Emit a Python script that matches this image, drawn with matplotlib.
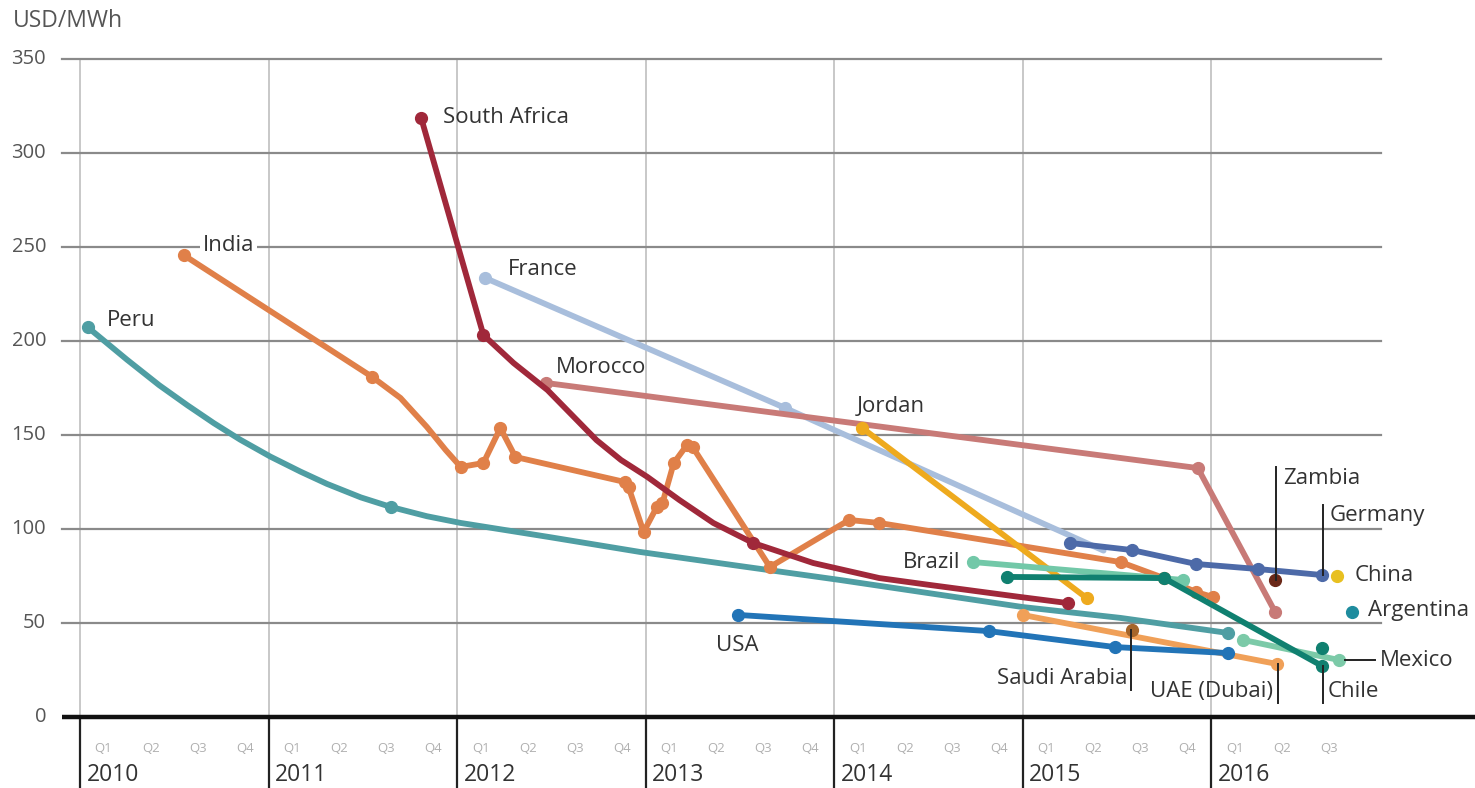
import matplotlib
matplotlib.use("Agg")
import matplotlib.pyplot as plt

plt.rcParams['font.family'] = ['Open Sans', 'DejaVu Sans']

# Solar PV auction prices, USD/MWh; time given as decimal year
peru_t = [2010.04, 2010.25, 2010.42, 2010.57, 2010.71, 2010.85,
          2011.01, 2011.17, 2011.31, 2011.49, 2011.65, 2011.84, 2012.02, 2012.49,
          2012.97, 2013.50, 2014.03, 2015.00, 2015.52, 2016.09]
peru_v = [207.4, 190.0, 176.5, 165.8, 156.3, 147.5,
          138.5, 130.5, 124.0, 116.8, 111.7, 106.8, 103.2, 95.7,
          87.8, 80.3, 72.9, 58.5, 52.7, 44.7]
peru_mt = [2010.04, 2011.65, 2016.09]
peru_mv = [207.4, 111.7, 44.7]

india_t = [2010.55, 2011.55, 2011.70, 2011.84, 2011.94, 2012.02, 2012.14, 2012.23,
           2012.31, 2012.89, 2012.91, 2012.99, 2013.06, 2013.09, 2013.15, 2013.22,
           2013.25, 2013.66, 2014.08, 2014.24, 2015.52, 2015.75, 2015.92, 2016.01]
india_v = [245.7, 180.9, 169.7, 154.3, 142.0, 133.0, 135.1, 153.7,
           138.3, 125.0, 122.3, 98.4, 111.7, 113.8, 135.1, 144.7,
           143.6, 79.8, 104.8, 103.2, 82.4, 73.9, 66.5, 63.8]
india_mt = [2010.55, 2011.55, 2012.02, 2012.14, 2012.23, 2012.31, 2012.89, 2012.91,
            2012.99, 2013.06, 2013.09, 2013.15, 2013.22, 2013.25, 2013.66, 2014.08,
            2014.24, 2015.52, 2015.75, 2015.92, 2016.01]
india_mv = [245.7, 180.9, 133.0, 135.1, 153.7, 138.3, 125.0, 122.3,
            98.4, 111.7, 113.8, 135.1, 144.7, 143.6, 79.8, 104.8,
            103.2, 82.4, 73.9, 66.5, 63.8]

safrica_t = [2011.81, 2012.14, 2012.30, 2012.48, 2012.61, 2012.74, 2012.87, 2013.01,
             2013.18, 2013.36, 2013.57, 2013.89, 2014.24, 2014.51, 2014.99, 2015.24]
safrica_v = [318.6, 203.2, 188.3, 173.9, 160.6, 147.3, 136.7, 127.7,
             115.4, 103.2, 92.6, 81.9, 73.9, 70.2, 63.8, 60.6]
safrica_mt = [2011.81, 2012.14, 2013.57, 2015.24]
safrica_mv = [318.6, 203.2, 92.6, 60.6]

france_t = [2012.15, 2013.74, 2015.43]
france_v = [233.5, 164.4, 88.5]
france_mt = [2012.15, 2013.74]
france_mv = [233.5, 164.4]

morocco_t = [2012.47, 2015.93, 2016.34]
morocco_v = [177.7, 132.4, 55.9]

jordan_t = [2014.15, 2015.34]
jordan_v = [153.7, 63.3]

brazil_t = [2014.74, 2015.85]
brazil_v = [82.4, 72.9]

chile_t = [2014.92, 2015.75, 2016.59]
chile_v = [74.5, 73.9, 27.1]
chile_extra_t = [2016.59]
chile_extra_v = [36.7]

mexico_t = [2016.17, 2016.68]
mexico_v = [41.0, 30.3]

germany_t = [2015.25, 2015.58, 2015.92, 2016.25, 2016.59]
germany_v = [92.6, 88.8, 81.4, 78.7, 75.5]

usa_t = [2013.49, 2014.82, 2015.49, 2016.09]
usa_v = [54.3, 45.7, 37.2, 34.0]

uae_t = [2015.00, 2016.35]
uae_v = [54.3, 28.2]

saudi_t = [2015.58]
saudi_v = [46.3]
zambia_t = [2016.34]
zambia_v = [72.9]
china_t = [2016.67]
china_v = [75.0]
argentina_t = [2016.75]
argentina_v = [55.9]

years = [2010, 2011, 2012, 2013, 2014, 2015, 2016]
quarters = ['Q1', 'Q2', 'Q3', 'Q4']
yticks = [0, 50, 100, 150, 200, 250, 300, 350]

fig = plt.figure(figsize=(14.75, 7.88), dpi=100)
ax = fig.add_axes([0, 0, 1, 1])
ax.set_xlim(2009.5756, 2017.4005)
ax.set_ylim(-37.77, 381.38)
ax.axis('off')

# grid
for y in yticks[1:]:
    ax.plot([2009.905, 2016.9], [y, y], color='#8a8a8a', lw=1.6, zorder=1)
for yr in years:
    ax.plot([yr, yr], [0, 350], color='#c4c4c4', lw=1.3, zorder=0.5)
    ax.plot([yr, yr], [0, -38], color='#222222', lw=1.6, zorder=1)
ax.plot([2009.905, 2017.42], [0, 0], color='#111111', lw=3.2, zorder=2,
        solid_capstyle='butt')

for y in yticks:
    ax.text(2009.82, y, str(y), ha='right', va='center', fontsize=14.5,
            color='#555555')
ax.text(2009.645, 370, 'USD/MWh', ha='left', va='center', fontsize=16.5,
        color='#555555')

for yr in years:
    nq = 3 if yr == 2016 else 4
    for i in range(nq):
        ax.text(yr + 0.125 + 0.25 * i, -16.5, quarters[i], ha='center',
                va='center', fontsize=9.5, color='#b0b0b0')
    ax.text(yr + 0.035, -31, str(yr), ha='left', va='center', fontsize=16.5,
            color='#333333')

lw = 4.2
ms = 8.5


def series(t, v, color, mt=None, mv=None, z=3):
    ax.plot(t, v, color=color, lw=lw, solid_capstyle='round',
            solid_joinstyle='round', zorder=z)
    if mt is None:
        mt, mv = t, v
    ax.plot(mt, mv, 'o', color=color, ms=ms, zorder=z, lw=0)


series(peru_t, peru_v, '#4f9ea3', peru_mt, peru_mv, z=3)
series(india_t, india_v, '#e08049', india_mt, india_mv, z=3.2)
series(france_t, france_v, '#a8bedc', france_mt, france_mv, z=3.1)
series(morocco_t, morocco_v, '#c87a77', z=3.3)
series(safrica_t, safrica_v, '#a0283a', safrica_mt, safrica_mv, z=3.4)
series(jordan_t, jordan_v, '#eeaa1e', z=3.5)
series(brazil_t, brazil_v, '#72c8a8', z=3.5)
series(uae_t, uae_v, '#f0a058', z=3.5)
series(usa_t, usa_v, '#2274b7', z=3.6)
series(germany_t, germany_v, '#4d6aa8', z=3.7)
series(mexico_t, mexico_v, '#7ccaa8', z=3.6)
series(chile_t, chile_v, '#108070', z=3.8)
ax.plot(chile_extra_t, chile_extra_v, 'o', color='#108070', ms=ms, zorder=3.8)
ax.plot(saudi_t, saudi_v, 'o', color='#a5652a', ms=ms, zorder=3.9)
ax.plot(zambia_t, zambia_v, 'o', color='#6a2818', ms=ms, zorder=3.9)
ax.plot(china_t, china_v, 'o', color='#e8c020', ms=ms, zorder=3.9)
ax.plot(argentina_t, argentina_v, 'o', color='#1e8c9e', ms=ms, zorder=3.9)

# labels
lab = dict(fontsize=16, color='#333333', va='center', zorder=5)
ax.text(2011.926, 319, 'South Africa', ha='left', **lab)
ax.text(2010.653, 251, 'India', ha='left',
        bbox=dict(facecolor='white', edgecolor='none', pad=2), **lab)
ax.text(2010.143, 211, 'Peru', ha='left', **lab)
ax.text(2012.27, 238, 'France', ha='left', **lab)
ax.text(2012.525, 186, 'Morocco', ha='left', **lab)
ax.text(2014.122, 165, 'Jordan', ha='left', **lab)
ax.text(2014.668, 82.4, 'Brazil', ha='right', **lab)
ax.text(2013.374, 37.8, 'USA', ha='left', **lab)
ax.text(2016.764, 75, 'China', ha='left', **lab)
ax.text(2016.833, 56.4, 'Argentina', ha='left', **lab)
ax.text(2016.897, 30.3, 'Mexico', ha='left', **lab)
ax.text(2016.385, 127, 'Zambia', ha='left', **lab)
ax.text(2016.63, 107, 'Germany', ha='left', **lab)
ax.text(2016.62, 13.3, 'Chile', ha='left', **lab)
ax.text(2016.33, 13.3, 'UAE (Dubai)', ha='right', **lab)
ax.text(2015.555, 20.7, 'Saudi Arabia', ha='right', **lab)

# leader lines
lead = dict(color='#222222', lw=1.4, zorder=4.5)
ax.plot([2016.345, 2016.345], [133, 73], **lead)
ax.plot([2016.594, 2016.594], [113, 75.5], **lead)
ax.plot([2016.594, 2016.594], [27, 7.4], **lead)
ax.plot([2016.355, 2016.355], [28.2, 7.4], **lead)
ax.plot([2015.576, 2015.576], [46.3, 14.4], **lead)
ax.plot([2016.71, 2016.87], [30.3, 30.3], **lead)

fig.savefig('out.png', dpi=100)
